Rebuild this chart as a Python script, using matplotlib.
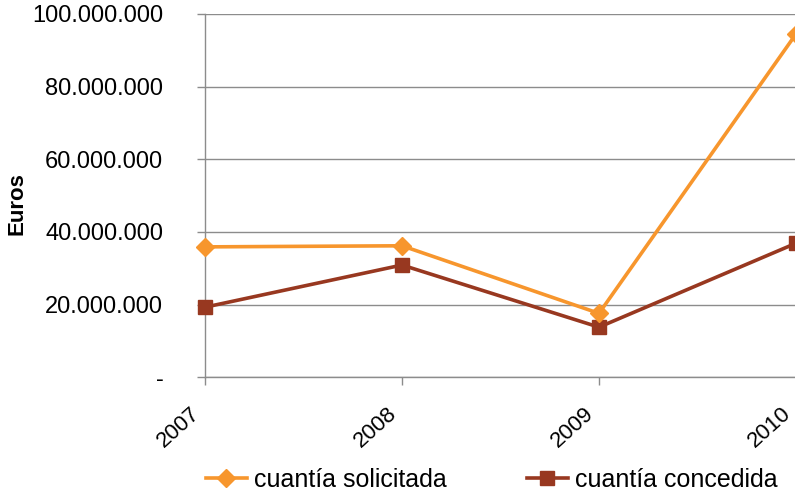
import matplotlib
matplotlib.use("Agg")
import matplotlib.pyplot as plt
import matplotlib.transforms as mtransforms
from matplotlib.ticker import FuncFormatter, MultipleLocator

plt.rcParams['font.family'] = ['Liberation Sans', 'DejaVu Sans']

# data
years = [2007, 2008, 2009, 2010]
solicitada = [35.9e6, 36.2e6, 17.6e6, 94.5e6]
concedida = [19.3e6, 30.9e6, 13.8e6, 36.9e6]

c_sol = '#F7962D'
c_con = '#983820'
grid_col = '#8C8C8C'


def euro_fmt(v, pos):
    if v == 0:
        return '-'
    return f'{int(round(v)):,}'.replace(',', '.')


fig = plt.figure(figsize=(7.95, 4.96), dpi=100)
ax = fig.add_axes([205 / 795, 118.7 / 496, 591 / 795, 363.3 / 496])

ax.plot(years, solicitada, color=c_sol, lw=2.6, marker='D', markersize=9,
        label='cuantía solicitada', clip_on=False, zorder=4)
ax.plot(years, concedida, color=c_con, lw=2.6, marker='s', markersize=9.5,
        label='cuantía concedida', clip_on=False, zorder=3)

ax.set_xlim(2007, 2010)
ax.set_ylim(0, 100e6)
ax.yaxis.set_major_locator(MultipleLocator(20e6))
ax.yaxis.set_major_formatter(FuncFormatter(euro_fmt))
ax.set_xticks(years)
ax.set_xticklabels([])

# year labels, rotated and pulled a bit left of their ticks
offset = mtransforms.ScaledTranslation(-15 / 100, -26 / 100, fig.dpi_scale_trans)
for y in years:
    ax.text(y, 0, str(y), transform=ax.get_xaxis_transform() + offset,
            rotation=42, ha='right', va='top', rotation_mode='anchor',
            fontsize=16)

ax.grid(axis='y', color=grid_col, lw=1)
ax.set_axisbelow(True)
for s in ['top', 'right']:
    ax.spines[s].set_visible(False)
for s in ['left', 'bottom']:
    ax.spines[s].set_color(grid_col)
    ax.spines[s].set_linewidth(1)

ax.tick_params(axis='y', length=6, width=1, color=grid_col, labelsize=17,
               pad=24)
ax.tick_params(axis='x', length=6, width=1, color=grid_col)

ax.set_ylabel('Euros', fontsize=16, fontweight='bold')
ax.yaxis.set_label_coords(-0.301, 0.478)

ax.legend(loc='center', bbox_to_anchor=(491.5 / 795, 16 / 496), ncol=2,
          frameon=False, fontsize=18, handlelength=1.65, handletextpad=0.28,
          columnspacing=3.2, bbox_transform=fig.transFigure)

fig.savefig('out.png', dpi=100)
